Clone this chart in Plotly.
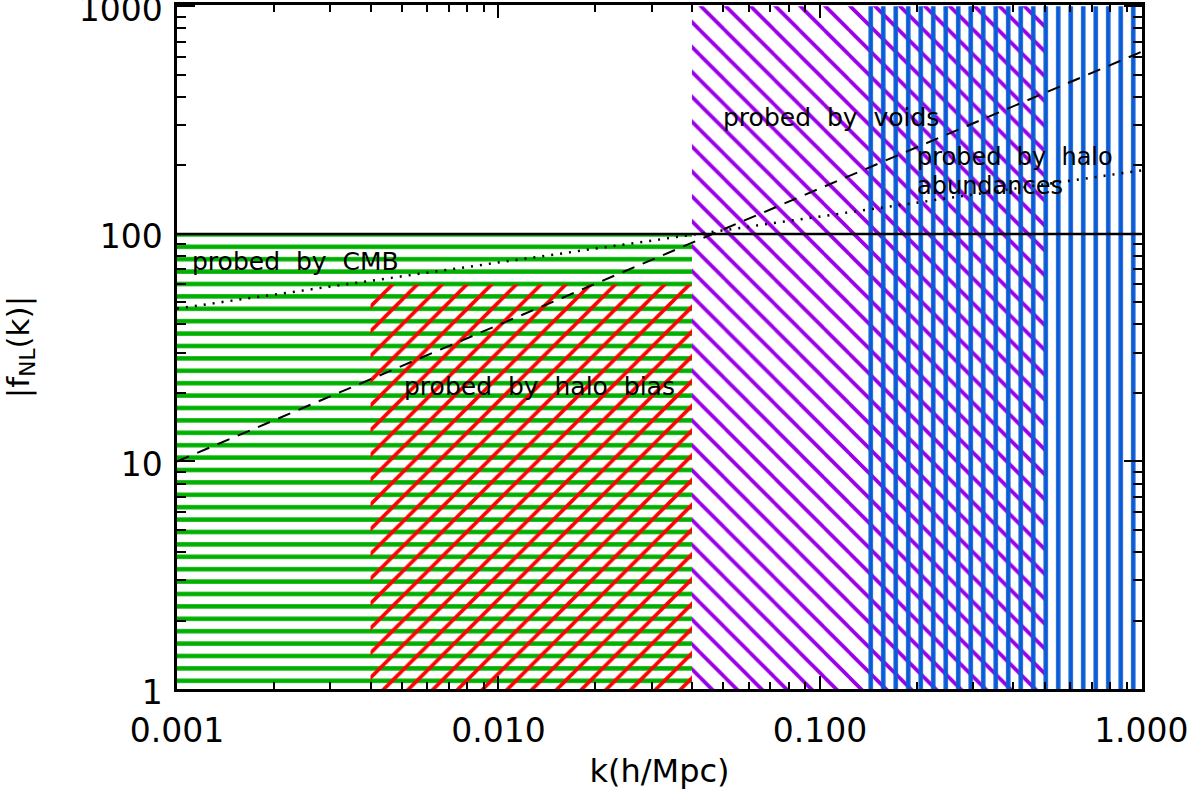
import math
import plotly.graph_objects as go

# ---- data ----
# probed regions: name, k_lo, k_hi, f_lo, f_hi
region_names = ["CMB", "halo bias", "voids", "halo abundances"]
region_k_lo = [0.001, 0.004, 0.04, 0.14]
region_k_hi = [0.04, 0.04, 0.5, 1.0]
region_f_lo = [1.0, 1.0, 1.0, 1.0]
region_f_hi = [100.0, 60.0, 1000.0, 1000.0]

# reference lines
line_k = [0.001, 1.0]
line_const = [100.0, 100.0]
line_dashed = [10.0, 631.0]
line_dotted = [47.0, 190.0]

x_tickvals = [0.001, 0.01, 0.1, 1.0]
x_ticktext = ["0.001", "0.010", "0.100", "1.000"]
y_tickvals = [1, 10, 100, 1000]
y_ticktext = ["1", "10", "100", "1000"]

# labels: text, k, f
label_text = ["probed\u00a0\u00a0by\u00a0\u00a0CMB",
              "probed\u00a0\u00a0by\u00a0\u00a0halo\u00a0\u00a0bias",
              "probed\u00a0\u00a0by\u00a0\u00a0voids",
              "probed\u00a0\u00a0by\u00a0\u00a0halo",
              "abundances"]
label_k = [0.00110, 0.0050, 0.0494, 0.198, 0.198]
label_f = [76.0, 21.4, 325.0, 217.0, 162.0]
label_size = [25, 25, 25, 24, 24]

FONT = "DejaVu Sans"

# ---- styles ----
styles = [
    dict(shape="-", fgcolor="#00b000", size=12.4, solidity=0.36),
    dict(shape="/", fgcolor="#ff0000", size=17.5, solidity=0.21),
    dict(shape="\\", fgcolor="#9a00e8", size=17.6, solidity=0.21),
    dict(shape="|", fgcolor="#0a5cd6", size=12.5, solidity=0.36),
]

fig = go.Figure()

for i, name in enumerate(region_names):
    k0, k1 = region_k_lo[i], region_k_hi[i]
    f0, f1 = region_f_lo[i], region_f_hi[i]
    st = styles[i]
    fig.add_trace(go.Scatter(
        x=[k0, k1, k1, k0, k0],
        y=[f0, f0, f1, f1, f0],
        mode="lines",
        line=dict(width=0, color="rgba(0,0,0,0)"),
        fill="toself",
        fillcolor="rgba(0,0,0,0)",
        fillpattern=dict(shape=st["shape"], fgcolor=st["fgcolor"],
                         bgcolor="rgba(0,0,0,0)", size=st["size"],
                         solidity=st["solidity"], fillmode="replace"),
        name=name, showlegend=False, hoverinfo="skip",
    ))

fig.add_trace(go.Scatter(x=line_k, y=line_const, mode="lines",
                         line=dict(color="black", width=2.5),
                         showlegend=False, hoverinfo="skip"))
fig.add_trace(go.Scatter(x=line_k, y=line_dashed, mode="lines",
                         line=dict(color="black", width=2, dash="13px,9px"),
                         showlegend=False, hoverinfo="skip"))
fig.add_trace(go.Scatter(x=line_k, y=line_dotted, mode="lines",
                         line=dict(color="black", width=2.5, dash="2px,7px"),
                         showlegend=False, hoverinfo="skip"))

for t, kx, fy, sz in zip(label_text, label_k, label_f, label_size):
    fig.add_annotation(x=math.log10(kx), y=math.log10(fy), xref="x", yref="y",
                       text=t, showarrow=False, xanchor="left", yanchor="middle",
                       font=dict(family=FONT, size=sz, color="black"))

axis_common = dict(
    type="log", showline=True, linecolor="black", linewidth=2.5,
    mirror="allticks", ticks="inside", tickcolor="black", tickwidth=2,
    showgrid=False, zeroline=False,
    tickfont=dict(family=FONT, size=33, color="black"),
    ticklabeloverflow="allow",
)

fig.update_xaxes(
    **axis_common,
    range=[-3, 0.002],
    tickvals=x_tickvals, ticktext=x_ticktext,
    ticklen=13,
    minor=dict(ticks="inside", ticklen=7, tickwidth=2, tickcolor="black",
               dtick="D1", showgrid=False),
    ticklabelstandoff=11,
    title=dict(text="k(h/Mpc)", font=dict(family=FONT, size=32, color="black"),
               standoff=11),
)
fig.update_yaxes(
    **axis_common,
    range=[0, 3.006],
    tickvals=y_tickvals, ticktext=y_ticktext,
    ticklen=18,
    minor=dict(ticks="inside", ticklen=9, tickwidth=2, tickcolor="black",
               dtick="D1", showgrid=False),
    ticklabelstandoff=5,
    ticklabelshift=3,
    title=dict(text="|f<sub>NL</sub>(k)|", font=dict(family=FONT, size=31, color="black"),
               standoff=50),
)

fig.update_layout(
    width=1204, height=801,
    margin=dict(l=177, r=62, t=5, b=112, autoexpand=False),
    paper_bgcolor="white", plot_bgcolor="white",
    showlegend=False,
)

fig.write_html("out.html", config={"displayModeBar": False},
               post_script="document.body.style.margin='0';document.body.style.padding='0';")
